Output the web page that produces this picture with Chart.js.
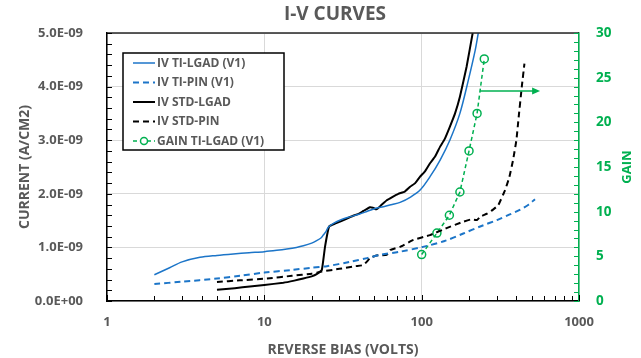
<!DOCTYPE html>
<html>
<head>
<meta charset="utf-8">
<script src="https://cdn.jsdelivr.net/npm/chart.js@4.4.1/dist/chart.umd.min.js"></script>
<style>
  html, body { margin: 0; padding: 0; background: #fff; }
  #wrap { width: 641px; height: 358px; }
</style>
</head>
<body>
<div id="wrap"><canvas id="myChart" width="641" height="358"></canvas></div>
<script>
// datos (corriente en A/cm2, voltaje en V)
var tiLgadV = [2, 2.5, 3, 3.9, 5, 6.35, 8, 10, 12, 13.9, 16, 17.7, 20, 21.5, 23, 23.7, 24.7, 25.5, 27.5, 31, 35, 40, 44.8, 50, 57, 65, 72.9, 85, 97.7, 113, 131, 151, 175, 198, 219, 229];
var tiLgadI = [0.49, 0.62, 0.73, 0.815, 0.85, 0.877, 0.90, 0.92, 0.945, 0.97, 1.0, 1.03, 1.08, 1.125, 1.18, 1.23, 1.30, 1.375, 1.45, 1.52, 1.57, 1.62, 1.67, 1.72, 1.76, 1.80, 1.84, 1.94, 2.07, 2.32, 2.63, 3.0, 3.5, 4.12, 4.68, 5.0];

var tiPinV = [2, 3, 5, 7, 10, 15, 20, 25, 35, 45, 54.5, 72.9, 102, 140, 184, 240, 301, 360, 420, 480, 525];
var tiPinI = [0.317, 0.36, 0.42, 0.47, 0.53, 0.58, 0.62, 0.65, 0.73, 0.80, 0.86, 0.92, 1.01, 1.12, 1.26, 1.40, 1.51, 1.61, 1.70, 1.80, 1.90];

var stdLgadV = [5, 6.5, 8.1, 10, 13.2, 15.5, 17.7, 20, 21.5, 23.2, 24.3, 25.8, 28, 30.3, 33, 36.7, 40, 42.6, 46.9, 49, 51.5, 55, 60, 65, 71, 78, 84.4, 91, 97.7, 105, 113, 122, 131, 140, 151, 163, 175, 193, 211];
var stdLgadI = [0.21, 0.24, 0.27, 0.30, 0.34, 0.38, 0.42, 0.46, 0.50, 0.58, 1.01, 1.39, 1.44, 1.48, 1.53, 1.59, 1.63, 1.68, 1.75, 1.74, 1.71, 1.78, 1.88, 1.94, 2.0, 2.04, 2.13, 2.20, 2.32, 2.42, 2.57, 2.70, 2.88, 3.02, 3.25, 3.50, 3.81, 4.37, 5.0];

var stdPinV = [5, 7, 10.4, 15, 20, 23.2, 30, 38, 42.6, 45, 46.9, 51.5, 60, 63, 72.9, 88.6, 113, 144, 184, 205, 225, 235, 260, 283, 307, 339, 360, 381, 400, 412, 433, 450];
var stdPinI = [0.355, 0.385, 0.42, 0.47, 0.51, 0.55, 0.60, 0.65, 0.67, 0.74, 0.80, 0.85, 0.86, 0.95, 1.01, 1.14, 1.23, 1.36, 1.48, 1.52, 1.51, 1.57, 1.63, 1.70, 1.79, 2.07, 2.30, 2.63, 3.0, 3.38, 4.0, 4.43];

var gainV = [100, 125, 150, 175, 200, 225, 250];
var gain = [5.2, 7.6, 9.6, 12.2, 16.8, 21.0, 27.1];

var xTicks = [1, 10, 100, 1000];
var etiquetas = ['IV TI-LGAD (V1)', 'IV TI-PIN (V1)', 'IV STD-LGAD', 'IV STD-PIN', 'GAIN TI-LGAD (V1)'];

var gris = '#595959';
var azul = '#1C75C8';
var verde = '#00B050';
var fuente = '"Open Sans"';

function puntos(xs, ys, escala) {
  var res = [];
  for (var i = 0; i < xs.length; i++) {
    res.push({ x: xs[i], y: ys[i] * escala });
  }
  return res;
}

function formatoE(v) {
  if (Math.abs(v) < 1e-15) return '0.0E+00';
  var s = v.toExponential(1).toUpperCase();
  var partes = s.split('E');
  var exp = parseInt(partes[1], 10);
  var signo = exp < 0 ? '-' : '+';
  var n = Math.abs(exp);
  return partes[0] + 'E' + signo + (n < 10 ? '0' + n : n);
}

// ticks hacia adentro, borde superior, leyenda, flecha y titulos
var extras = {
  id: 'extras',
  afterDraw: function (chart) {
    var c = chart.ctx;
    var a = chart.chartArea;
    var sx = chart.scales.x, sy = chart.scales.y, sy2 = chart.scales.y2;
    c.save();

    // titulo
    c.fillStyle = gris;
    c.font = 'bold 19px ' + fuente;
    c.textAlign = 'center';
    c.textBaseline = 'middle';
    c.fillText('I-V CURVES', 335, 15);

    // borde superior
    c.strokeStyle = '#262626';
    c.lineWidth = 1.5;
    c.beginPath();
    c.moveTo(a.left, a.top);
    c.lineTo(a.right, a.top);
    c.stroke();

    // ticks eje x
    c.strokeStyle = '#000';
    c.lineWidth = 1;
    c.beginPath();
    for (var d = 1; d < 1000; d *= 10) {
      for (var m = 1; m <= 10; m++) {
        var px = Math.round(sx.getPixelForValue(d * m)) + 0.5;
        c.moveTo(px, a.bottom);
        c.lineTo(px, a.bottom - (m === 1 || m === 10 ? 6 : 5));
      }
    }
    // ticks eje y izquierdo
    for (var k = 0; k <= 25; k++) {
      var py = Math.round(sy.getPixelForValue(k * 0.2e-9)) + 0.5;
      c.moveTo(a.left, py);
      c.lineTo(a.left + 5, py);
    }
    c.stroke();

    // ticks eje y derecho
    c.strokeStyle = verde;
    c.beginPath();
    for (var g = 0; g <= 30; g++) {
      var py2 = Math.round(sy2.getPixelForValue(g)) + 0.5;
      c.moveTo(a.right, py2);
      c.lineTo(a.right - 5, py2);
    }
    c.stroke();

    // flecha hacia el eje de ganancia
    var ax1 = sx.getPixelForValue(235), ax2 = sx.getPixelForValue(566);
    var ay = sy2.getPixelForValue(23.5);
    c.strokeStyle = verde;
    c.fillStyle = verde;
    c.lineWidth = 1.5;
    c.beginPath();
    c.moveTo(ax1, ay);
    c.lineTo(ax2 - 6, ay);
    c.stroke();
    c.beginPath();
    c.moveTo(ax2, ay);
    c.lineTo(ax2 - 8, ay - 3.5);
    c.lineTo(ax2 - 8, ay + 3.5);
    c.closePath();
    c.fill();

    // titulo del eje derecho
    c.fillStyle = verde;
    c.font = 'bold 13px ' + fuente;
    c.textAlign = 'center';
    c.textBaseline = 'middle';
    c.translate(627, (a.top + a.bottom) / 2);
    c.rotate(-Math.PI / 2);
    c.fillText('GAIN', 0, 0);
    c.setTransform(1, 0, 0, 1, 0, 0);

    // leyenda dentro del area
    var lx = a.left + 16, ly = a.top + 20, lw = 161, lh = 97;
    c.fillStyle = '#fff';
    c.fillRect(lx, ly, lw, lh);
    c.strokeStyle = '#000';
    c.lineWidth = 1.5;
    c.strokeRect(lx, ly, lw, lh);
    c.font = 'bold 12px ' + fuente;
    c.textAlign = 'left';
    var dsets = chart.data.datasets;
    for (var i = 0; i < dsets.length; i++) {
      var ds = dsets[i];
      var yy = ly + 10 + i * 19.5;
      c.strokeStyle = ds.borderColor;
      c.lineWidth = ds.borderWidth;
      c.setLineDash(ds.borderDash || []);
      c.beginPath();
      c.moveTo(lx + 10, yy);
      c.lineTo(lx + 32, yy);
      c.stroke();
      c.setLineDash([]);
      if (ds.pointRadius > 0) {
        c.fillStyle = '#fff';
        c.beginPath();
        c.arc(lx + 21, yy, 3.5, 0, Math.PI * 2);
        c.fill();
        c.stroke();
      }
      c.fillStyle = gris;
      c.fillText(ds.label, lx + 34, yy + 0.5);
    }
    c.restore();
  }
};

var ctx = document.getElementById('myChart');

new Chart(ctx, {
  type: 'line',
  data: {
    datasets: [{
      label: etiquetas[0],
      data: puntos(tiLgadV, tiLgadI, 1e-9),
      borderColor: azul,
      borderWidth: 1.5,
      pointRadius: 0,
      tension: 0.3,
      yAxisID: 'y'
    }, {
      label: etiquetas[1],
      data: puntos(tiPinV, tiPinI, 1e-9),
      borderColor: azul,
      borderWidth: 2,
      borderDash: [6, 4],
      pointRadius: 0,
      tension: 0.3,
      yAxisID: 'y'
    }, {
      label: etiquetas[2],
      data: puntos(stdLgadV, stdLgadI, 1e-9),
      borderColor: '#000',
      borderWidth: 2,
      pointRadius: 0,
      tension: 0.1,
      yAxisID: 'y'
    }, {
      label: etiquetas[3],
      data: puntos(stdPinV, stdPinI, 1e-9),
      borderColor: '#000',
      borderWidth: 2,
      borderDash: [6, 4],
      pointRadius: 0,
      tension: 0.1,
      yAxisID: 'y'
    }, {
      label: etiquetas[4],
      data: puntos(gainV, gain, 1),
      borderColor: verde,
      borderWidth: 1.5,
      borderDash: [4, 3],
      pointRadius: 4,
      pointBorderWidth: 1.5,
      pointBackgroundColor: 'rgba(255,255,255,0)',
      pointBorderColor: verde,
      tension: 0,
      yAxisID: 'y2'
    }]
  },
  options: {
    responsive: false,
    animation: false,
    layout: { padding: { left: 0, right: 0, top: 33, bottom: 0 } },
    plugins: {
      legend: { display: false },
      tooltip: { enabled: false },
      title: { display: false }
    },
    scales: {
      x: {
        type: 'logarithmic',
        min: 1,
        max: 1000,
        afterBuildTicks: function (scale) {
          scale.ticks = xTicks.map(function (v) { return { value: v }; });
        },
        afterFit: function (scale) { scale.height = 57; },
        grid: { color: '#D9D9D9', drawTicks: false },
        border: { color: '#000', width: 1.5 },
        ticks: {
          color: gris,
          padding: 13,
          font: { family: fuente, size: 13, weight: 'bold' },
          callback: function (v) { return String(v); }
        },
        title: {
          display: true,
          text: 'REVERSE BIAS (VOLTS)',
          color: gris,
          font: { family: fuente, size: 14, weight: 'bold' },
          padding: { top: 1, bottom: 0 }
        }
      },
      y: {
        position: 'left',
        min: 0,
        max: 5e-9,
        afterBuildTicks: function (scale) {
          var t = [];
          for (var i = 0; i <= 5; i++) t.push({ value: i * 1e-9 });
          scale.ticks = t;
        },
        afterFit: function (scale) { scale.width = 107; },
        grid: { color: '#D9D9D9', drawTicks: false },
        border: { color: '#000', width: 1.5 },
        ticks: {
          color: gris,
          padding: 24,
          font: { family: fuente, size: 13, weight: 'bold' },
          callback: function (v) { return formatoE(v); }
        },
        title: {
          display: true,
          text: 'CURRENT (A/CM2)',
          color: gris,
          font: { family: fuente, size: 14, weight: 'bold' },
          padding: { top: 17, bottom: 0 }
        }
      },
      y2: {
        position: 'right',
        min: 0,
        max: 30,
        afterBuildTicks: function (scale) {
          var t = [];
          for (var i = 0; i <= 30; i += 5) t.push({ value: i });
          scale.ticks = t;
        },
        afterFit: function (scale) { scale.width = 62; },
        grid: { display: false, drawTicks: false },
        border: { color: verde, width: 1.5 },
        ticks: {
          color: verde,
          padding: 17,
          font: { family: fuente, size: 13.5, weight: 'bold' }
        }
      }
    }
  },
  plugins: [extras]
});
</script>
</body>
</html>
